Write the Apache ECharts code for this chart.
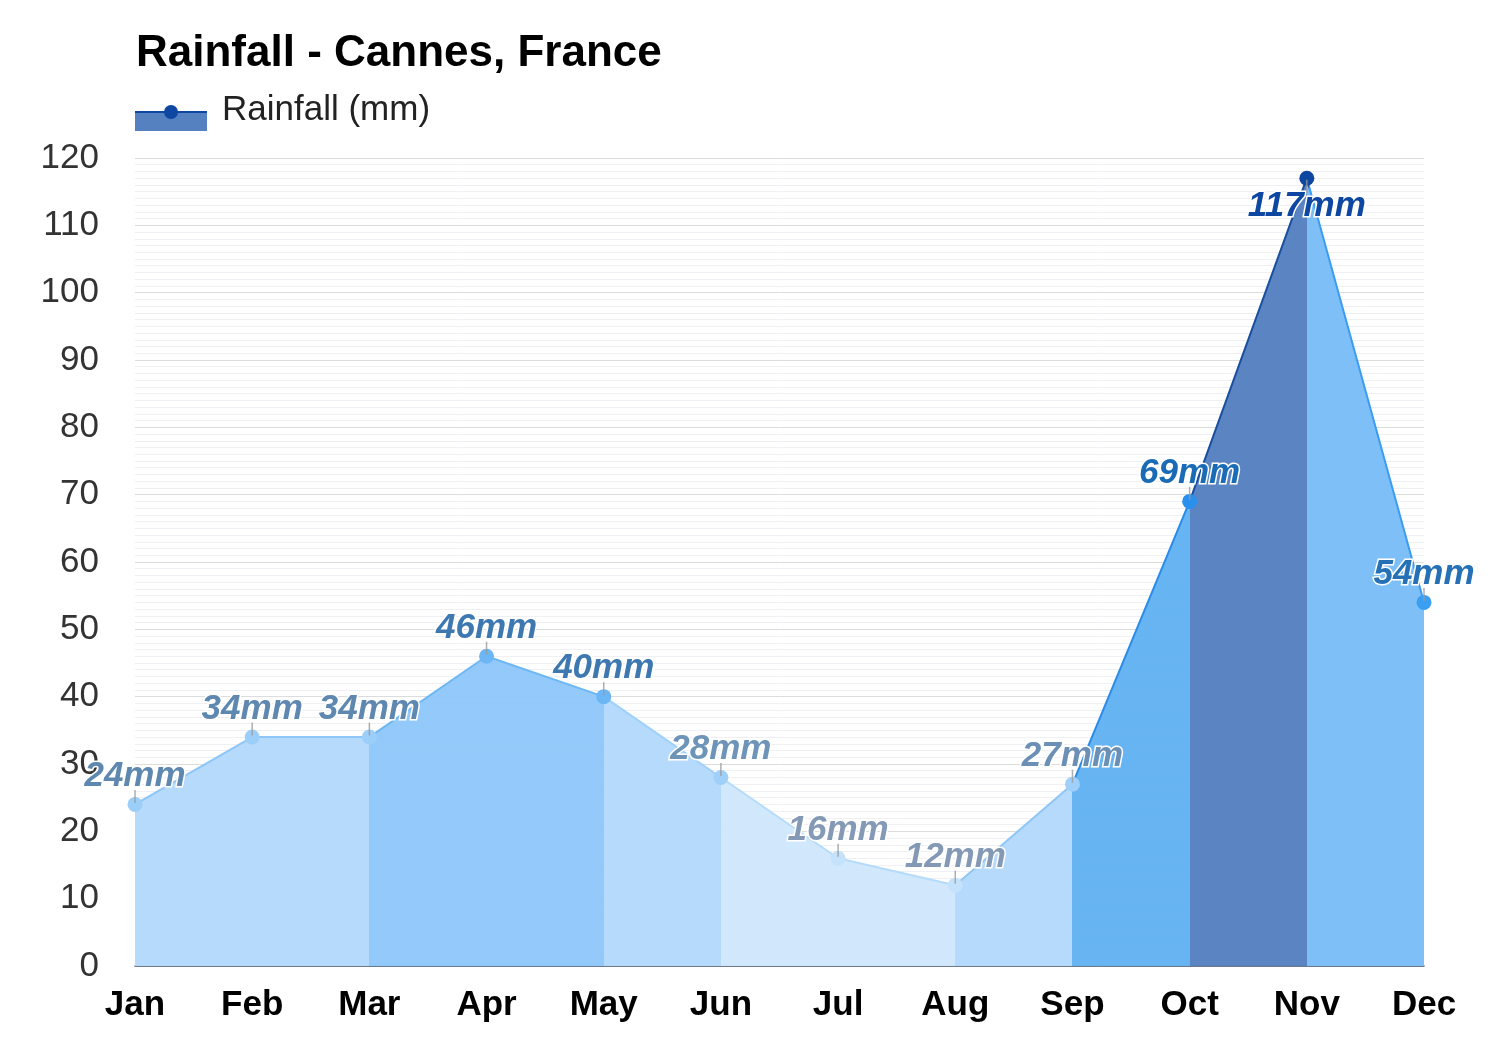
<!DOCTYPE html>
<html>
<head>
<meta charset="utf-8">
<title>Rainfall - Cannes, France</title>
<script src="https://cdn.jsdelivr.net/npm/echarts@6/dist/echarts.min.js"></script>
<style>
  html, body { margin: 0; padding: 0; background: #fff; }
  #main { width: 1500px; height: 1050px; }
</style>
</head>
<body>
<div id="main"></div>
<script>
// data
var months = ["Jan", "Feb", "Mar", "Apr", "May", "Jun", "Jul", "Aug", "Sep", "Oct", "Nov", "Dec"];
var rainfall = [24, 34, 34, 46, 40, 28, 16, 12, 27, 69, 117, 54];

// styles: one colour per segment (month i -> i+1) and per point
var segFill = ["#b3d9fb", "#b3d9fb", "#8fc8fa", "#8fc8fa", "#b3d9fb", "#d0e7fc", "#d0e7fc", "#b3d9fb", "#62b2f1", "#5581c0", "#7bbdf7"];
var segLine = ["#8ec6f8", "#8ec6f8", "#6db7f5", "#6db7f5", "#9fd0fa", "#b5dbfb", "#b5dbfb", "#8ec6f8", "#2a8ce8", "#1a4f9f", "#3a9cf0"];
var pointColor = ["#9ccefa", "#9ccefa", "#9ccefa", "#6cb6f5", "#6cb6f5", "#9fd0fa", "#c4e2fc", "#c4e2fc", "#9fd0fa", "#2b8fee", "#0d47a1", "#3a9ef2"];
var labelColor = ["#5e88b0", "#5e88b0", "#5e88b0", "#3d78b0", "#3d78b0", "#6e94b8", "#8499b5", "#8499b5", "#6b8fb5", "#1a6bb5", "#0d47a1", "#2670b5"];

var FONT = 'Arial, "Liberation Sans", sans-serif';

function hardStops(colors) {
  var stops = [];
  var n = colors.length;
  for (var i = 0; i < n; i++) {
    stops.push({ offset: i / n, color: colors[i] });
    stops.push({ offset: (i + 1) / n, color: colors[i] });
  }
  return new echarts.graphic.LinearGradient(0, 0, 1, 0, stops);
}

var maxIdx = rainfall.indexOf(Math.max.apply(null, rainfall));

var lineData = rainfall.map(function (v, i) {
  var below = i === maxIdx;
  return {
    value: v,
    itemStyle: { color: pointColor[i] },
    label: {
      color: labelColor[i],
      position: below ? "bottom" : "top"
    }
  };
});

var tickData = rainfall.map(function (v, i) {
  return { value: v, symbolOffset: [0, i === maxIdx ? 8 : -8] };
});

var chart = echarts.init(document.getElementById("main"));
chart.setOption({
  backgroundColor: "#fff",
  animation: false,
  title: {
    text: "Rainfall - Cannes, France",
    left: 131,
    top: 27,
    textStyle: { color: "#000", fontSize: 44, fontWeight: "bold", fontFamily: FONT }
  },
  graphic: [
    { type: "rect", left: 135, top: 112, shape: { width: 72, height: 19 }, style: { fill: "#5581c0" } },
    { type: "line", shape: { x1: 135, y1: 112, x2: 207, y2: 112 }, style: { stroke: "#0d47a1", lineWidth: 2 } },
    { type: "circle", shape: { cx: 171, cy: 112, r: 7 }, style: { fill: "#0d47a1" } },
    { type: "text", left: 222, top: 93, style: { text: "Rainfall (mm)", fill: "#222", fontSize: 35, fontFamily: FONT } }
  ],
  grid: { left: 135, right: 76, top: 158, bottom: 84 },
  xAxis: {
    type: "category",
    data: months,
    boundaryGap: false,
    axisLine: { lineStyle: { color: "#4a5a70", width: 1.5 } },
    axisTick: { show: false },
    axisLabel: { color: "#000", fontSize: 35, fontWeight: "bold", fontFamily: FONT, margin: 22 },
    splitLine: { show: false }
  },
  yAxis: {
    type: "value",
    min: 0,
    max: 120,
    interval: 10,
    axisLine: { show: false },
    axisTick: { show: false },
    axisLabel: { color: "#333", fontSize: 35, fontFamily: FONT, margin: 36 },
    splitLine: { lineStyle: { color: "#dcdcdc", width: 1 } },
    minorTick: { show: false, splitNumber: 10 },
    minorSplitLine: { show: true, lineStyle: { color: "#f0eff4", width: 1 } }
  },
  series: [
    {
      name: "Rainfall (mm)",
      type: "line",
      data: lineData,
      symbol: "circle",
      symbolSize: 15,
      lineStyle: { width: 2, color: hardStops(segLine) },
      areaStyle: { color: hardStops(segFill), opacity: 0.97 },
      label: {
        show: true,
        distance: 3,
        formatter: "{c}mm",
        fontSize: 35,
        fontWeight: "bold",
        fontStyle: "italic",
        fontFamily: FONT,
        textBorderColor: "#fff",
        textBorderWidth: 3
      },
      z: 2
    },
    {
      type: "scatter",
      data: tickData,
      symbol: "rect",
      symbolSize: [1.5, 13],
      itemStyle: { color: "#9a9a9a" },
      silent: true,
      z: 3
    }
  ]
});
</script>
</body>
</html>
